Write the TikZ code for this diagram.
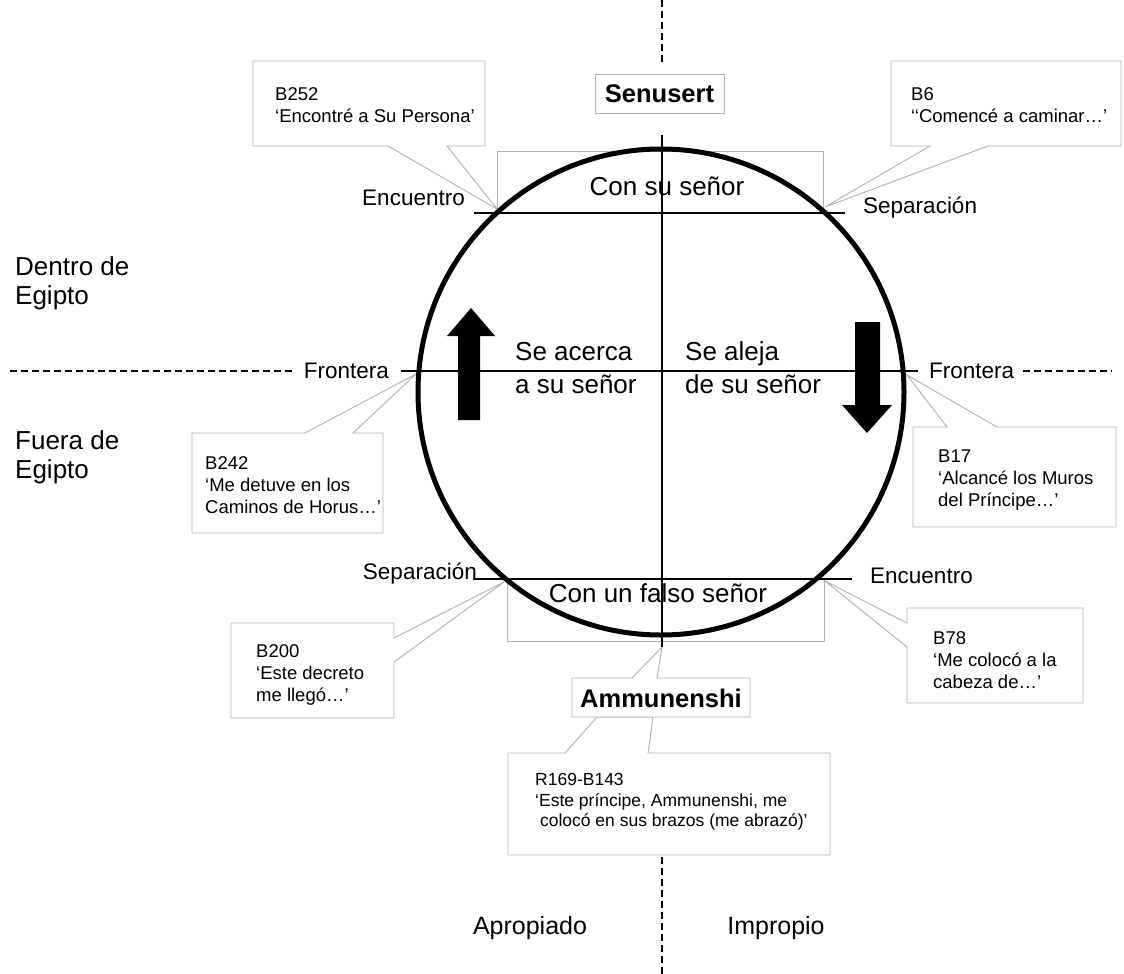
\documentclass[tikz,border=0pt]{standalone}
\usepackage{fontspec}
\setmainfont{Liberation Sans}
\begin{document}
\begin{tikzpicture}[x=1pt,y=-1pt,
  greybox/.style={draw=black!30, line width=0.9pt},
  callout/.style={draw=black!30, fill=white, line width=0.9pt},
  ctext/.style={font=\fontsize{18.5}{22}\selectfont, align=left, inner sep=0pt, anchor=west},
  lab/.style={font=\fontsize{22.5}{27}\selectfont, inner sep=0pt},
  big/.style={font=\fontsize{26}{33}\selectfont, inner sep=0pt, align=left},
  side/.style={font=\fontsize{26}{29}\selectfont, inner sep=0pt, align=left, anchor=west},
  bottomlab/.style={font=\fontsize{25}{30}\selectfont, inner sep=0pt},
  bname/.style={font=\fontsize{25.5}{30}\selectfont\bfseries, inner sep=0pt},
  blackline/.style={line width=2.2pt},
  dashline/.style={line width=2pt, dash pattern=on 7pt off 4pt},
  fatarrow/.style={fill=black}
]
\useasboundingbox (0,0) rectangle (1124,974);

% grey boxes
\draw[greybox] (497,151) rectangle (823,213);
\draw[greybox] (507,579) rectangle (824,641);
\node[big] (consu) at (667,186) {Con su señor};
\node[big] (confalso) at (658,593) {Con un falso señor};

% callouts
\draw[callout] (253,61) -- (485,61) -- (485,146) -- (447,146) -- (497,209) -- (388,146) -- (253,146) -- cycle;
\node[ctext] (b252) at (275,105) {B252\\‘Encontré a Su Persona’};

\draw[callout] (891,61) -- (1121,61) -- (1121,146) -- (988,146) -- (825,207) -- (930,146) -- (891,146) -- cycle;
\node[ctext] (b6) at (911,105) {B6\\‘‘Comencé a caminar…’};

\draw[callout] (192,433) -- (305,433) -- (416,374) -- (353,433) -- (383,433) -- (383,533) -- (192,533) -- cycle;
\node[ctext] (b242) at (205,485) {B242\\‘Me detuve en los\\Caminos de Horus…’};

\draw[callout] (913,427) -- (947,427) -- (907,375) -- (997,427) -- (1116,427) -- (1116,527) -- (913,527) -- cycle;
\node[ctext] (b17) at (938,480) {B17\\‘Alcancé los Muros\\del Príncipe…’};

\draw[callout] (231,623) -- (394,623) -- (394,638) -- (504,582) -- (394,662) -- (394,718) -- (231,718) -- cycle;
\node[ctext] (b200) at (256,675) {B200\\‘Este decreto\\me llegó…’};

\draw[callout] (907,608) -- (1083,608) -- (1083,703) -- (907,703) -- (907,647) -- (825,581) -- (907,623) -- cycle;
\node[ctext] (b78) at (933,660) {B78\\‘Me colocó a la\\cabeza de…’};

\draw[callout] (508,753) -- (565,753) -- (597,717) -- (653,717) -- (648,753) -- (830,753) -- (830,855) -- (508,855) -- cycle;
\node[ctext, font=\fontsize{17.5}{20.5}\selectfont] (r169) at (535,802) {R169-B143\\‘Este príncipe, Ammunenshi, me\\\ colocó en sus brazos (me abrazó)’};

\draw[callout] (572,678) -- (632,678) -- (662,647) -- (657,678) -- (750,678) -- (750,717) -- (572,717) -- cycle;
\node[bname] (amm) at (661,698) {Ammunenshi};

% Senusert
\node[bname, draw=black!30, line width=0.9pt, minimum width=129pt, minimum height=39pt] (sen) at (659.5,93.5) {Senusert};

% circle
\node[circle, draw, line width=5pt, minimum size=486pt, inner sep=0pt] (circ) at (661,392) {};

% axes
\coordinate (vtop) at (662,135);
\coordinate (vbot) at (662,647);
\draw[blackline] (vtop) -- (vbot);

\node[lab, anchor=east] (encT) at (465,198) {Encuentro};
\node[lab, anchor=west] (sepT) at (863,208) {Separación};
\coordinate (tl) at (474,213);
\coordinate (tr) at (845,213);
\draw[blackline] (tl) -- (tr);

\node[lab, anchor=east] (sepB) at (477,574) {Separación};
\node[lab, anchor=west] (encB) at (870,576) {Encuentro};
\coordinate (bl) at (473,579);
\coordinate (br) at (852,579);
\draw[blackline] (bl) -- (br);

\node[lab, anchor=east] (froL) at (389,371) {Frontera};
\node[lab, anchor=west] (froR) at (929,371) {Frontera};
\coordinate (fl) at (401,371);
\coordinate (fr) at (918,371);
\draw[blackline] (fl) -- (fr);

% dashed lines
\coordinate (dl) at (10,371);
\coordinate (dr) at (1112,371);
\draw[dashline] (dl) -- ([xshift=-10pt]froL.west);
\draw[dashline] ([xshift=9pt]froR.east) -- (dr);
\coordinate (dt0) at (662,0);
\coordinate (dt1) at (662,62);
\coordinate (db0) at (662,857);
\coordinate (db1) at (662,974);
\draw[dashline] (dt0) -- (dt1);
\draw[dashline] (db0) -- (db1);

% fat arrows
\fill[fatarrow] (458,420) -- (458,336) -- (447,336) -- (471,308) -- (495,336) -- (480,336) -- (480,420) -- cycle;
\fill[fatarrow] (855,322) -- (880,322) -- (880,405) -- (892,405) -- (867,433) -- (842,405) -- (855,405) -- cycle;

% inner texts
\node[big, anchor=west] (acerca) at (515,368) {Se acerca\\a su señor};
\node[big, anchor=west] (aleja) at (685,368) {Se aleja\\de su señor};

% side labels
\node[side] (dentro) at (15,283) {Dentro de\\Egipto};
\node[side] (fuera) at (15,457) {Fuera de\\Egipto};
\node[bottomlab] (apro) at (530,928) {Apropiado};
\node[bottomlab] (impro) at (776,928) {Impropio};
\end{tikzpicture}
\end{document}
